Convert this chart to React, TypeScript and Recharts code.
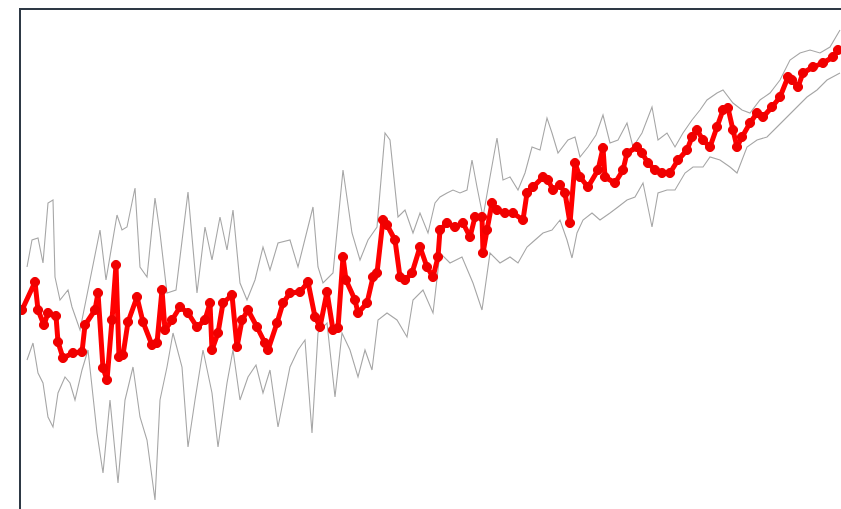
import { LineChart, Line, XAxis, YAxis } from "recharts";

// [t, value] pairs
const trend: [number, number][] = [
  [0, 19.9], [2.6, 22.7], [3.2, 19.9], [4.4, 18.4], [5.2, 19.6], [6.8, 19.3], [7.2, 16.7], [8.2, 15.1],
  [10.2, 15.6], [12.0, 15.7], [12.6, 18.4], [14.6, 19.9], [15.2, 21.6], [16.2, 14.1], [17.0, 12.9], [18.0, 18.9],
  [18.8, 24.4], [19.4, 15.2], [20.2, 15.4], [21.2, 18.7], [23.0, 21.2], [24.2, 18.7], [26.0, 16.4], [27.0, 16.6],
  [28.0, 21.9], [28.6, 17.9], [30.0, 18.9], [31.6, 20.2], [33.2, 19.6], [35.0, 18.2], [36.6, 18.9], [37.6, 20.6],
  [38.0, 15.9], [39.2, 17.6], [40.2, 20.6], [42.0, 21.4], [43.0, 16.2], [44.0, 18.9], [45.2, 19.9], [47.0, 18.2],
  [48.6, 16.6], [49.2, 15.9], [51.0, 18.6], [52.2, 20.6], [53.6, 21.6], [55.6, 21.7], [57.2, 22.7], [58.6, 19.2],
  [59.6, 18.2], [61.0, 21.7], [62.2, 17.9], [63.2, 18.1], [64.2, 25.2], [64.8, 22.9], [66.6, 20.9], [67.2, 19.6],
  [69.0, 20.6], [70.2, 23.2], [71.0, 23.6], [72.2, 28.9], [73.0, 28.4], [74.6, 26.9], [75.6, 23.2], [76.6, 22.9],
  [78.0, 23.6], [79.6, 26.2], [81.0, 24.2], [82.2, 23.2], [83.2, 25.2], [83.6, 27.9], [85.0, 28.6], [86.6, 28.2],
  [88.2, 28.6], [89.6, 27.2], [90.6, 29.2], [92.0, 29.2], [92.2, 25.6], [93.0, 27.9], [94.0, 30.6], [95.0, 29.9],
  [96.6, 29.6], [98.2, 29.6], [100.2, 28.9], [101.0, 31.6], [102.2, 32.2], [104.2, 33.2], [105.2, 32.9], [106.2, 31.9],
  [107.6, 32.4], [108.6, 31.6], [109.6, 28.6], [110.6, 34.6], [111.6, 33.2], [113.2, 32.2], [115.2, 33.9], [116.2, 36.1],
  [116.6, 33.2], [118.6, 32.6], [120.2, 33.9], [121.0, 35.6], [123.0, 36.2], [124.0, 35.6], [125.2, 34.6], [126.6, 33.9],
  [128.0, 33.6], [129.6, 33.6], [131.2, 34.9], [133.0, 35.9], [134.0, 37.2], [135.0, 37.9], [136.2, 36.9], [137.6, 36.2],
  [139.0, 38.2], [140.2, 39.9], [141.2, 40.1], [142.2, 37.9], [143.0, 36.2], [144.0, 37.2], [145.6, 38.6], [147.0, 39.6],
  [148.2, 39.2], [150.0, 40.2], [151.6, 41.2], [153.2, 43.2], [154.0, 42.9], [155.2, 42.2], [156.2, 43.6], [158.2, 44.2],
  [160.2, 44.6], [162.2, 45.2], [163.2, 45.9],
];

const upper: [number, number][] = [
  [1.0, 24.2], [2.0, 26.9], [3.2, 27.1], [4.2, 24.6], [5.2, 30.6], [6.2, 30.9], [6.6, 23.2], [7.6, 20.9],
  [9.2, 21.9], [10.0, 20.2], [11.6, 17.9], [15.6, 27.9], [16.8, 22.9], [19.0, 29.4], [20.0, 27.9], [21.0, 28.2],
  [22.6, 32.1], [23.6, 24.2], [25.0, 23.2], [26.6, 31.1], [27.6, 27.6], [29.0, 21.6], [30.8, 21.9], [33.2, 31.7],
  [35.0, 21.6], [36.6, 28.2], [38.0, 24.9], [39.6, 29.2], [41.0, 25.9], [42.2, 29.9], [43.6, 22.6], [45.0, 20.9],
  [46.6, 22.9], [48.2, 26.2], [49.6, 23.9], [51.2, 26.6], [53.6, 26.9], [55.2, 24.2], [58.2, 30.2], [59.2, 24.2],
  [60.2, 22.6], [62.2, 23.6], [64.2, 33.9], [66.0, 27.6], [67.6, 24.9], [69.2, 26.9], [71.0, 28.2], [72.6, 37.6],
  [73.6, 36.9], [75.2, 29.2], [76.6, 29.9], [78.2, 27.6], [79.6, 29.6], [81.2, 27.6], [82.6, 30.6], [83.6, 31.2],
  [85.0, 31.6], [86.2, 31.9], [87.6, 31.6], [89.0, 31.9], [90.0, 34.9], [91.0, 32.2], [92.2, 29.2], [93.6, 33.2],
  [95.0, 37.1], [96.2, 32.9], [97.6, 33.2], [99.2, 31.9], [100.6, 33.6], [102.0, 36.2], [103.6, 35.9], [105.0, 39.1],
  [106.0, 37.6], [107.2, 35.6], [109.2, 36.9], [110.6, 37.2], [111.6, 35.2], [113.2, 36.2], [114.8, 37.4], [116.2, 39.4],
  [117.6, 36.6], [119.2, 36.9], [121.0, 38.6], [122.2, 36.2], [124.0, 37.6], [126.0, 40.2], [127.2, 36.9], [129.0, 37.6],
  [130.6, 36.2], [132.2, 37.6], [134.0, 38.9], [135.6, 39.9], [137.0, 40.9], [139.0, 41.6], [140.2, 41.9], [142.2, 40.6],
  [144.0, 39.9], [145.6, 39.6], [147.6, 40.9], [149.6, 41.6], [151.6, 42.9], [153.6, 44.9], [155.6, 45.6], [157.6, 45.9],
  [159.6, 45.6], [161.6, 46.2], [163.6, 47.9],
];

const lower: [number, number][] = [
  [1.0, 14.9], [2.2, 16.6], [3.2, 13.6], [4.2, 12.6], [5.2, 9.2], [6.2, 8.2], [7.2, 11.6], [8.6, 13.2],
  [9.6, 12.6], [10.6, 10.9], [12.0, 13.9], [13.2, 15.9], [15.0, 7.6], [16.2, 3.6], [17.6, 10.9], [19.2, 2.6],
  [20.6, 10.9], [22.2, 14.2], [23.6, 9.2], [25.0, 6.9], [26.6, 0.9], [27.6, 10.9], [29.0, 14.2], [30.2, 17.6],
  [32.0, 14.2], [33.2, 6.2], [34.6, 10.9], [36.2, 15.9], [38.0, 11.6], [39.2, 6.2], [41.0, 12.6], [42.2, 15.9],
  [43.6, 10.9], [45.2, 13.2], [46.8, 14.4], [48.2, 11.6], [49.6, 13.9], [51.2, 8.2], [53.6, 14.2], [55.2, 15.9],
  [56.6, 16.9], [58.0, 7.6], [59.2, 17.6], [61.0, 18.6], [62.6, 11.2], [64.0, 17.6], [65.6, 15.9], [67.2, 13.2],
  [68.6, 15.9], [70.0, 13.9], [71.2, 18.9], [73.0, 19.6], [75.0, 18.9], [77.0, 17.2], [78.2, 20.9], [80.2, 21.9],
  [82.2, 19.6], [83.6, 25.6], [85.6, 24.6], [88.0, 25.2], [90.2, 22.6], [92.0, 19.9], [93.6, 25.6], [95.6, 24.6],
  [97.6, 25.2], [99.2, 24.6], [101.0, 26.2], [102.6, 26.9], [104.2, 27.6], [106.0, 27.9], [107.6, 28.9], [109.0, 26.9],
  [110.0, 25.1], [111.0, 27.6], [112.2, 28.9], [114.0, 29.6], [115.6, 28.9], [117.6, 29.6], [119.2, 30.2], [121.0, 30.9],
  [122.6, 31.2], [124.2, 32.6], [126.0, 28.2], [127.2, 31.6], [129.0, 31.9], [130.6, 31.9], [132.6, 33.6], [134.2, 34.2],
  [136.2, 34.2], [137.6, 35.2], [139.6, 34.9], [141.6, 34.2], [143.0, 33.6], [145.0, 36.2], [147.0, 36.9], [149.0, 37.2],
  [151.0, 38.2], [153.0, 39.2], [155.0, 40.2], [157.0, 41.2], [159.0, 41.9], [161.0, 42.9], [163.6, 43.6],
];

const topTicks = [8, 26, 44, 62, 80, 98, 116, 134, 152];

const toRows = (pairs: [number, number][]) => pairs.map(([t, v]) => ({ t, v }));

export default function App() {
  return (
    <div style={{ position: "fixed", left: 0, top: 0, width: 841, height: 509, overflow: "hidden", background: "#fff" }}>
      <div
        style={{
          position: "absolute",
          left: 19,
          top: 8,
          width: 840,
          height: 520,
          borderLeft: "2px solid #2e3945",
          borderTop: "2px solid #2e3945",
        }}
      />
      <div style={{ position: "absolute", left: 21, top: 10 }}>
        <LineChart width={820} height={499} margin={{ top: 0, right: 0, bottom: 0, left: 0 }}>
          <XAxis
            type="number"
            dataKey="t"
            orientation="top"
            domain={[-0.2, 163.8]}
            allowDataOverflow
            ticks={topTicks}
            height={0}
            mirror
            axisLine={false}
            tickLine={{ stroke: "#c4c4c4" }}
            tickSize={3}
            tickFormatter={() => ""}
          />
          <YAxis type="number" domain={[0, 49.9]} allowDataOverflow hide />
          <Line data={toRows(upper)} dataKey="v" stroke="#a6a6a6" strokeWidth={1.1} dot={false} isAnimationActive={false} />
          <Line data={toRows(lower)} dataKey="v" stroke="#a6a6a6" strokeWidth={1.1} dot={false} isAnimationActive={false} />
          <Line
            data={toRows(trend)}
            dataKey="v"
            stroke="#ff0000"
            strokeWidth={5}
            strokeLinejoin="round"
            dot={{ r: 4.6, fill: "#f00000", stroke: "#f00000", strokeWidth: 1 }}
            isAnimationActive={false}
          />
        </LineChart>
      </div>
    </div>
  );
}
